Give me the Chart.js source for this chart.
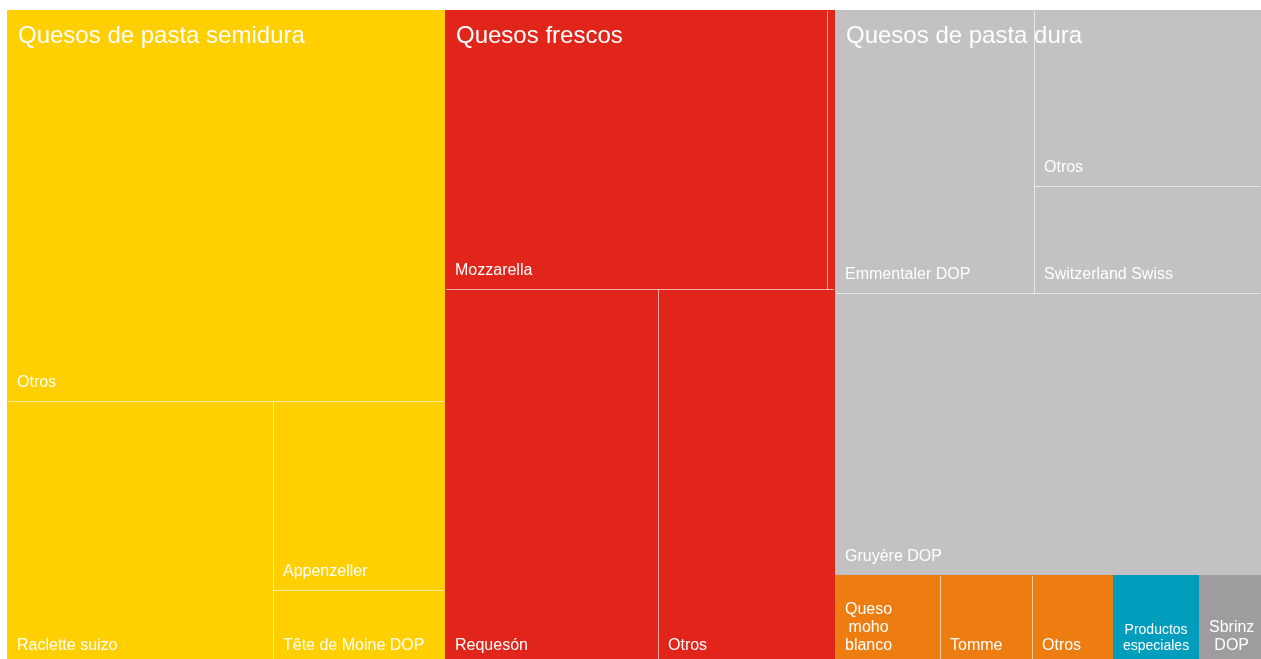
<!DOCTYPE html>
<html lang="es">
<head>
<meta charset="utf-8">
<title>Quesos suizos por tipo</title>
<script src="https://cdn.jsdelivr.net/npm/chart.js@4/dist/chart.umd.min.js"></script>
<style>
  html, body { margin: 0; padding: 0; background: #ffffff; overflow: hidden; }
  #wrap { position: relative; width: 1261px; height: 664px; }
</style>
</head>
<body>
<div id="wrap"><canvas id="chart"></canvas></div>
<script>
// Cheese groups (top level) and the varieties inside each one (tonnes)
const grupos = ['Quesos de pasta semidura', 'Quesos frescos', 'Quesos de pasta dura',
                'Quesos de pasta blanda', 'Productos especiales', 'Quesos de pasta extradura'];

const semiduraNombres = ['Otros', 'Raclette suizo', 'Appenzeller', 'Tête de Moine DOP'];
const semiduraValores = [41390, 16910, 7860, 3080];

const frescosNombres = ['Mozzarella', 'Varios', 'Requesón', 'Otros'];
const frescosValores = [25760, 540, 19310, 16040];

const duraNombres = ['Emmentaler DOP', 'Otros', 'Switzerland Swiss', 'Gruyère DOP'];
const duraValores = [13610, 9660, 5870, 29040];

const blandaNombres = ['Queso moho blanco', 'Tomme', 'Otros'];
const blandaValores = [2260, 1960, 1740];

const especialesNombres = ['Productos especiales'];
const especialesValores = [1850];

const extraduraNombres = ['Sbrinz DOP'];
const extraduraValores = [1330];

// Styling
const coloresGrupo = ['#FFCF00', '#E1251B', '#C3C1C2', '#EE7D11', '#009EBC', '#9E9C9E'];
const FONT = '"Liberation Sans", Arial, Helvetica, sans-serif';
const tamanoEtiqueta = { 'Productos especiales': 14 };

const hijos = [
  [semiduraNombres, semiduraValores],
  [frescosNombres, frescosValores],
  [duraNombres, duraValores],
  [blandaNombres, blandaValores],
  [especialesNombres, especialesValores],
  [extraduraNombres, extraduraValores]
];

// Build the hierarchy from the arrays above
function construirArbol() {
  return grupos.map((g, gi) => {
    const [nombres, valores] = hijos[gi];
    const children = nombres.map((n, i) => ({ name: n, value: valores[i] }));
    return { name: g, color: coloresGrupo[gi], children,
             value: children.reduce((s, c) => s + c.value, 0) };
  });
}

// Balanced binary treemap partition (splits the ordered list where the
// running sum is closest to half, cutting along the longer side)
function particion(nodes, X0, Y0, X1, Y1) {
  const sums = [0];
  nodes.forEach(n => sums.push(sums[sums.length - 1] + n.value));
  function part(i, j, value, x0, y0, x1, y1) {
    if (i >= j - 1) {
      const n = nodes[i];
      n.x0 = x0; n.y0 = y0; n.x1 = x1; n.y1 = y1;
      return;
    }
    const offset = sums[i], target = value / 2 + offset;
    let k = i + 1, hi = j - 1;
    while (k < hi) {
      const mid = (k + hi) >>> 1;
      if (sums[mid] < target) k = mid + 1; else hi = mid;
    }
    if ((target - sums[k - 1]) < (sums[k] - target) && i + 1 < k) --k;
    const vl = sums[k] - offset, vr = value - vl;
    if ((x1 - x0) > (y1 - y0)) {
      const xk = (x0 * vr + x1 * vl) / value;
      part(i, k, vl, x0, y0, xk, y1);
      part(k, j, vr, xk, y0, x1, y1);
    } else {
      const yk = (y0 * vr + y1 * vl) / value;
      part(i, k, vl, x0, y0, x1, yk);
      part(k, j, vr, x0, yk, x1, y1);
    }
  }
  part(0, nodes.length, sums[nodes.length], X0, Y0, X1, Y1);
}

function envolver(ctx, texto, maxW) {
  const words = texto.split(' ');
  const lines = [];
  let cur = '';
  words.forEach(w => {
    const test = cur ? cur + ' ' + w : w;
    if (cur && ctx.measureText(test).width > maxW) { lines.push(cur); cur = w; }
    else cur = test;
  });
  if (cur) lines.push(cur);
  return lines;
}

const treemapPlugin = {
  id: 'treemapCells',
  afterDatasetsDraw(chart) {
    const { ctx, chartArea: a, scales } = chart;
    const sx = scales.x, sy = scales.y;
    const W = a.right - a.left, H = a.bottom - a.top;
    const arbol = construirArbol();

    // Lay out in plot-size units, then map through the chart scales (0..1)
    particion(arbol, 0, 0, W, H);
    arbol.forEach(g => particion(g.children, g.x0, g.y0, g.x1, g.y1));

    const px = u => Math.round(sx.getPixelForValue(u / W));
    const py = u => Math.round(sy.getPixelForValue(u / H));
    const rect = n => ({ x: px(n.x0), y: py(n.y0), w: px(n.x1) - px(n.x0), h: py(n.y1) - py(n.y0) });

    ctx.save();
    arbol.forEach(g => {
      const gr = rect(g);
      // cells
      g.children.forEach(c => {
        const r = rect(c);
        ctx.fillStyle = g.color;
        ctx.fillRect(r.x, r.y, r.w, r.h);
      });
      // inner separators, kept inside the group
      ctx.save();
      ctx.beginPath();
      ctx.rect(gr.x + 1, gr.y + 1, gr.w - 2, gr.h - 2);
      ctx.clip();
      ctx.strokeStyle = 'rgba(255,255,255,0.38)';
      ctx.lineWidth = 1;
      g.children.forEach(c => {
        const r = rect(c);
        ctx.strokeRect(r.x + 0.5, r.y + 0.5, r.w, r.h);
      });
      ctx.restore();
    });

    // leaf labels: bottom-left, wrapped when narrow
    ctx.fillStyle = '#ffffff';
    arbol.forEach(g => {
      g.children.forEach(c => {
        const r = rect(c);
        if (r.w < 30 || r.h < 20) return;
        const size = tamanoEtiqueta[c.name] || 16;
        ctx.font = size + 'px ' + FONT;
        const lines = envolver(ctx, c.name, r.w - 21);
        const lh = Math.round(size * 1.15);
        const blockW = Math.max(...lines.map(l => ctx.measureText(l).width));
        const left = r.x + 10;
        ctx.textBaseline = 'middle';
        const bottomY = r.y + r.h - 18;
        lines.forEach((l, i) => {
          const yy = bottomY - (lines.length - 1 - i) * lh;
          if (lines.length > 1) {
            ctx.textAlign = 'center';
            ctx.fillText(l, left + blockW / 2, yy);
          } else {
            ctx.textAlign = 'left';
            ctx.fillText(l, left, yy);
          }
        });
      });
    });

    // group headers
    arbol.forEach(g => {
      const gr = rect(g);
      if (g.children.length < 2 || gr.h < 150) return;
      ctx.font = '24px ' + FONT;
      ctx.textAlign = 'left';
      ctx.textBaseline = 'middle';
      ctx.fillStyle = '#ffffff';
      ctx.fillText(g.name, gr.x + 11, gr.y + 26);
    });
    ctx.restore();
  }
};

new Chart(document.getElementById('chart'), {
  type: 'scatter',
  data: { datasets: [] },
  options: {
    responsive: true,
    maintainAspectRatio: false,
    animation: false,
    layout: { padding: { left: 7, top: 10, right: 0, bottom: 0 } },
    plugins: { legend: { display: false }, tooltip: { enabled: false } },
    scales: {
      x: { type: 'linear', min: 0, max: 1, display: false },
      y: { type: 'linear', min: 0, max: 1, reverse: true, display: false }
    }
  },
  plugins: [treemapPlugin]
});
</script>
</body>
</html>
